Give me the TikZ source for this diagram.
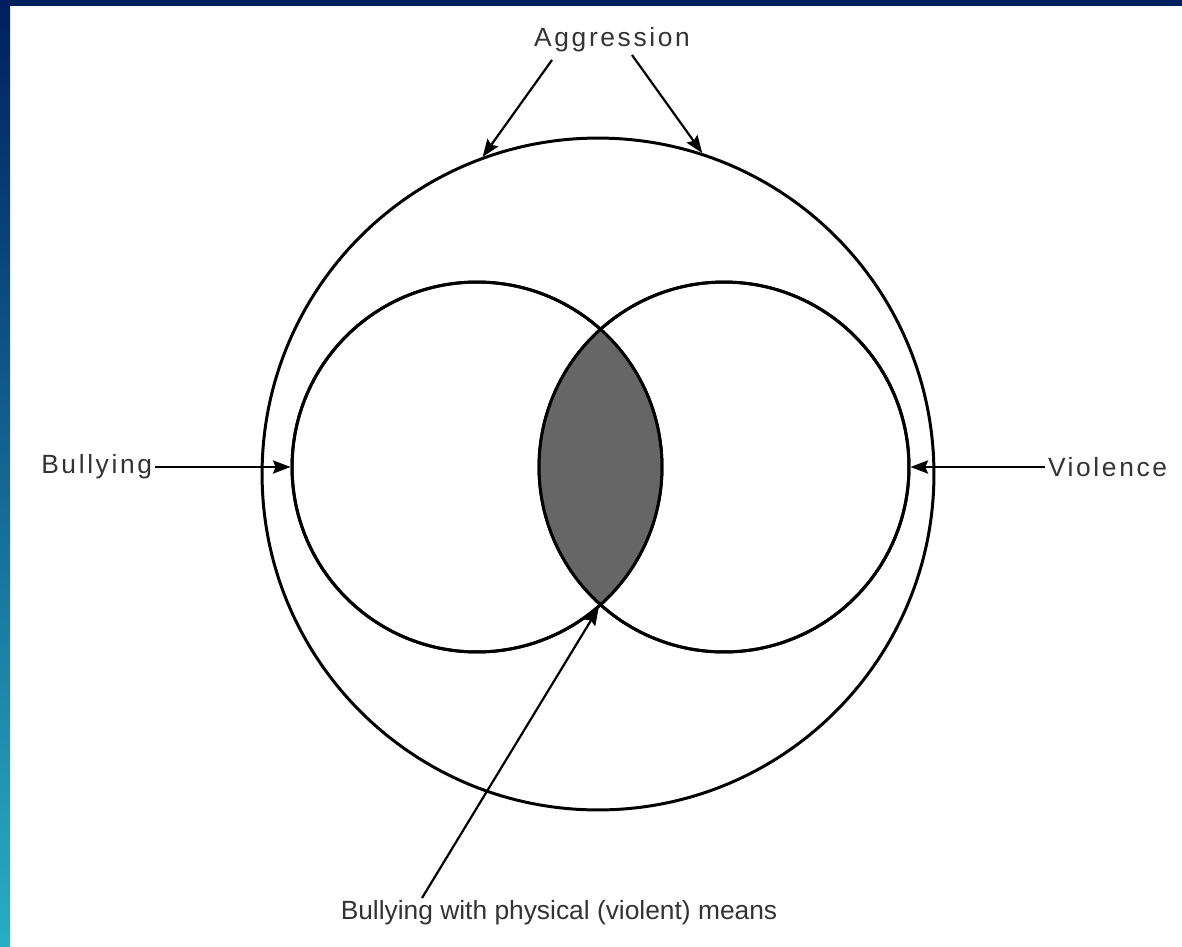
\documentclass[tikz,border=0pt]{standalone}
\usepackage{fontspec}
\setmainfont{Liberation Sans}
\newfontfamily\spaced[LetterSpace=10]{Liberation Sans}
\usetikzlibrary{arrows.meta,positioning,calc}
\definecolor{navy}{HTML}{001F5F}
\definecolor{royal}{HTML}{00349A}
\definecolor{teal}{HTML}{27AEC6}
\definecolor{lensgray}{HTML}{666666}
\definecolor{inktext}{HTML}{333333}
\tikzset{
  ring/.style={circle,draw=black,line width=1.7pt,inner sep=0pt,fill=none},
  tag/.style={font=\spaced\fontsize{15}{17}\selectfont,text=inktext,inner sep=1.5pt},
  foot/.style={font=\fontsize{15}{17}\selectfont,text=inktext,inner sep=1.5pt},
  arr/.style={-{Stealth[length=10pt,width=7.5pt,inset=1.5pt]},draw=black,line width=1.25pt}
}

\begin{document}
\begin{tikzpicture}[x=0.02cm,y=-0.02cm]
\path[use as bounding box] (0,0) rectangle (1182,946);
\fill[white] (0,0) rectangle (1182,946);
\fill[navy] (0,0) rectangle (1182,6);
\shade[top color=navy,middle color=royal,bottom color=teal] (0,0) rectangle (10,946);

\node[ring,minimum size=13.44cm] (aggr) at (598,474) {};
\node[ring,minimum size=7.4cm] (bully) at (477,467) {};
\node[ring,minimum size=7.4cm] (viol) at (724,467) {};
\begin{scope}
 \clip (bully.center) circle (3.7cm);
 \fill[lensgray] (viol.center) circle (3.7cm);
\end{scope}
\draw[line width=1.7pt] (bully.center) circle (3.7cm) (viol.center) circle (3.7cm);

\node[tag] (aggrtxt) at (612,40) {Aggression};
\node[tag,anchor=east] (bullytxt) at (155,467) {Bullying};
\node[tag,anchor=west] (violtxt) at (1045,467) {Violence};
\node[foot] (meanstxt) at (559,913) {Bullying with physical (violent) means};

\coordinate (aL) at (552,60);
\coordinate (aR) at (632,55);
\coordinate (mstart) at (422,898);
\coordinate (low) at (600.5,604.7);

\draw[arr] (aL) -- (aggr.110);
\draw[arr] (aR) -- (aggr.72);
\draw[arr] (bullytxt.east) -- (bully.west);
\draw[arr] (violtxt.west) -- (viol.east);
\draw[arr,shorten >=2pt] (mstart) -- (low);
\end{tikzpicture}
\end{document}
